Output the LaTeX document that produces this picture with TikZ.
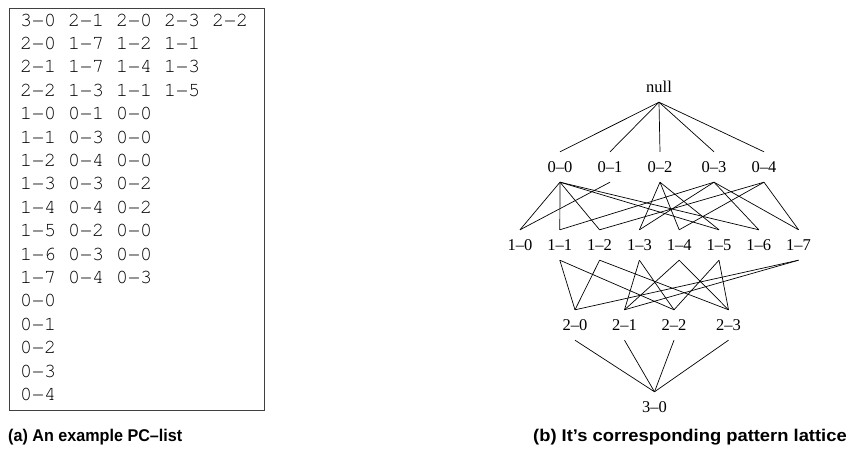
\documentclass[tikz,border=0pt]{standalone}
\usepackage{fontspec}
\setmainfont{Liberation Serif}
\newfontfamily\listfont{TeX Gyre Cursor}
\newfontfamily\capfont{Liberation Sans}
\begin{document}
\begin{tikzpicture}[x=1pt,y=-1pt,
  lat/.style={font=\fontsize{16.5}{18}\selectfont, inner sep=0pt, minimum height=30pt},
  edge/.style={line width=0.7pt},
  captext/.style={font=\capfont\bfseries\fontsize{17}{20}\selectfont, inner sep=0pt, anchor=west}]
\useasboundingbox (0,0) rectangle (852,465);
% left box with PC-list
\draw[line width=0.8pt, black!75] (9,8) rectangle (264,410);
\node[anchor=north west, align=left, inner sep=0pt,
      font=\listfont\fontsize{20}{23.4}\selectfont] (pclist) at (20,13.5)
 {3−0 2−1 2−0 2−3 2−2\\
  2−0 1−7 1−2 1−1\\
  2−1 1−7 1−4 1−3\\
  2−2 1−3 1−1 1−5\\
  1−0 0−1 0−0\\
  1−1 0−3 0−0\\
  1−2 0−4 0−0\\
  1−3 0−3 0−2\\
  1−4 0−4 0−2\\
  1−5 0−2 0−0\\
  1−6 0−3 0−0\\
  1−7 0−4 0−3\\
  0−0\\
  0−1\\
  0−2\\
  0−3\\
  0−4};
% lattice nodes
\node[lat] (null) at (659,87) {null};
\node[lat] (n00) at (560,167) {0–0};
\node[lat] (n01) at (610,167) {0–1};
\node[lat] (n02) at (660,167) {0–2};
\node[lat] (n03) at (714,167) {0–3};
\node[lat] (n04) at (764,167) {0–4};
\node[lat] (m10) at (520,245) {1–0};
\node[lat] (m11) at (559.8,245) {1–1};
\node[lat] (m12) at (599.6,245) {1–2};
\node[lat] (m13) at (639.4,245) {1–3};
\node[lat] (m14) at (679.2,245) {1–4};
\node[lat] (m15) at (719,245) {1–5};
\node[lat] (m16) at (758.8,245) {1–6};
\node[lat] (m17) at (798.6,245) {1–7};
\node[lat] (p20) at (575,325) {2–0};
\node[lat] (p21) at (624.5,325) {2–1};
\node[lat] (p22) at (674,325) {2–2};
\node[lat] (p23) at (728.5,325) {2–3};
\node[lat] (q30) at (654.5,407) {3–0};
% edges null -> level 0
\foreach \b in {n00,n01,n02,n03,n04}
  \draw[edge] (null.south) -- (\b.north);
% level 0 -> level 1
\foreach \a/\b in {n01/m10,n00/m10, n03/m11,n00/m11, n04/m12,n00/m12,
                   n03/m13,n02/m13, n04/m14,n02/m14, n02/m15,n00/m15,
                   n03/m16,n00/m16, n04/m17,n03/m17}
  \draw[edge] (\a.south) -- (\b.north);
% level 1 -> level 2
\foreach \a/\b in {m11/p20,m12/p20,m17/p20, m13/p21,m14/p21,m17/p21,
                   m11/p22,m13/p22,m15/p22, m12/p23,m14/p23,m15/p23}
  \draw[edge] (\a.south) -- (\b.north);
% level 2 -> 3-0
\foreach \a in {p20,p21,p22,p23}
  \draw[edge] (\a.south) -- (q30.north);
% captions
\node[captext] (capa) at (8,437) {\scalebox{0.95}[1]{(a) An example PC–list}};
\node[captext] (capb) at (533,437) {\scalebox{1.08}[1]{(b) It’s corresponding pattern lattice}};
\end{tikzpicture}
\end{document}
